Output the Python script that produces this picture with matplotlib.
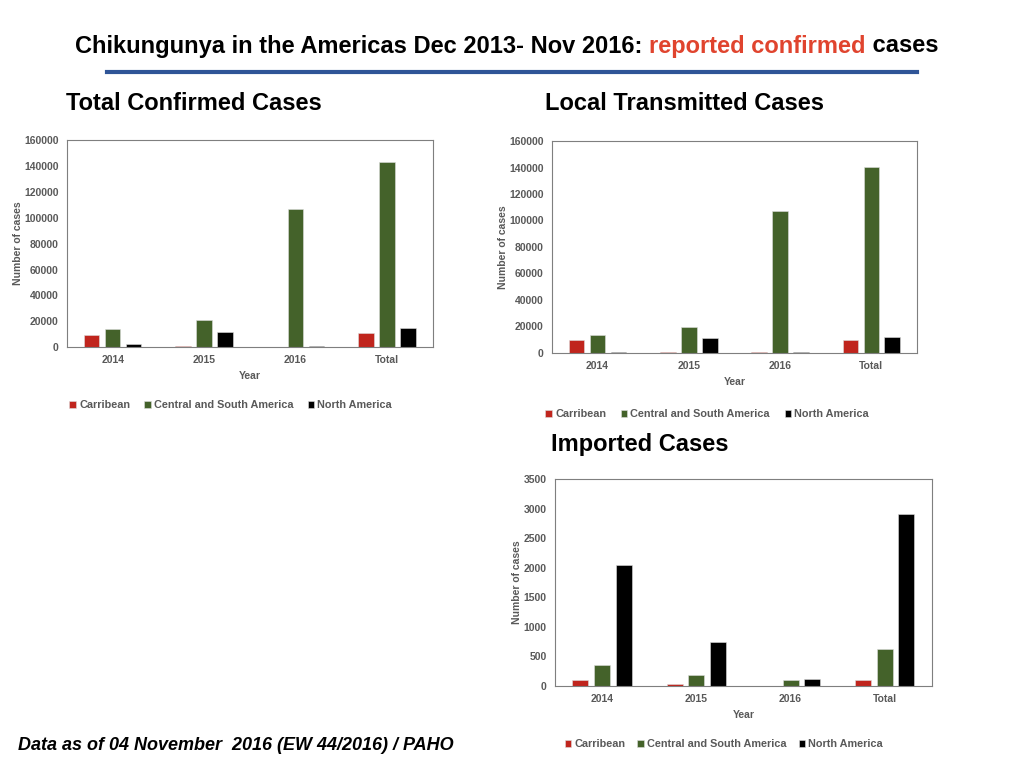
import numpy as np
import matplotlib
matplotlib.use("Agg")
import matplotlib.pyplot as plt

plt.rcParams['font.family'] = ['Liberation Sans', 'DejaVu Sans']

years = ["2014", "2015", "2016", "Total"]
regions = ["Carribean", "Central and South America", "North America"]
colors = ["#c0251d", "#44622a", "#000000"]

# total confirmed cases
total_carib = [9200, 1000, 300, 10600]
total_csa = [13800, 21000, 107000, 142800]
total_na = [2600, 11700, 500, 15000]

# locally transmitted cases
local_carib = [9600, 1000, 800, 10100]
local_csa = [13400, 19500, 107400, 140400]
local_na = [1000, 11300, 700, 12100]

# imported cases
imp_carib = [107, 28, 0, 107]
imp_csa = [361, 181, 107, 633]
imp_na = [2045, 740, 124, 2904]

grey = "#595959"


def bar_panel(ax, series, ymax, step, legend_x, legend_y, colsp):
    x = np.arange(len(years))
    w = 0.17
    off = 0.23
    for i, vals in enumerate(series):
        ax.bar(x + (i - 1) * off, vals, w, color=colors[i], label=regions[i],
               edgecolor="#dddddd", linewidth=0.4)
    ax.set_xlim(-0.5, len(years) - 0.5)
    ax.set_ylim(0, ymax)
    ax.set_yticks(np.arange(0, ymax + 1, step))
    ax.set_xticks(x)
    ax.set_xticklabels(years)
    ax.tick_params(length=0, labelsize=7.5, labelcolor=grey, pad=6)
    for lab in ax.get_xticklabels() + ax.get_yticklabels():
        lab.set_fontweight("bold")
    for s in ax.spines.values():
        s.set_color("#7f7f7f")
        s.set_linewidth(0.8)
    ax.set_xlabel("Year", fontsize=7.5, fontweight="bold", color=grey, labelpad=4)
    ax.set_ylabel("Number of cases", fontsize=7.5, fontweight="bold", color=grey, labelpad=1)
    ax.legend(loc="upper left", bbox_to_anchor=(legend_x, legend_y), ncol=3, frameon=False,
              handlelength=0.6, handleheight=0.6, handletextpad=0.3,
              columnspacing=colsp, labelcolor=grey, prop={"weight": "bold", "size": 7.8})


fig = plt.figure(figsize=(10.24, 7.68), dpi=100)

ax1 = fig.add_axes([0.0654, 0.548, 0.357, 0.2695])
bar_panel(ax1, [total_carib, total_csa, total_na], 160000, 20000, -0.02, -0.21, 1.3)

ax2 = fig.add_axes([0.539, 0.5404, 0.3564, 0.276])
bar_panel(ax2, [local_carib, local_csa, local_na], 160000, 20000, -0.045, -0.22, 1.35)

ax3 = fig.add_axes([0.542, 0.1068, 0.368, 0.2695])
bar_panel(ax3, [imp_carib, imp_csa, imp_na], 3500, 500, 0.0, -0.21, 1.1)

# title made of three coloured pieces
fig.canvas.draw()
r = fig.canvas.get_renderer()
parts = [("Chikungunya in the Americas Dec 2013- Nov 2016: ", "black"),
         ("reported confirmed", "#e0442e"),
         (" cases", "black")]
xpos = 75 / 1024
for txt, c in parts:
    t = fig.text(xpos, 1 - 46 / 768, txt, color=c, fontsize=17, fontweight="bold",
                 va="center", ha="left")
    bb = t.get_window_extent(renderer=r)
    xpos += bb.width / fig.bbox.width

fig.add_artist(plt.Line2D([107 / 1024, 917 / 1024], [1 - 72 / 768, 1 - 72 / 768],
                          color="#2f5597", linewidth=3))

fig.text(66 / 1024, 1 - 103 / 768, "Total Confirmed Cases", fontsize=17,
         fontweight="bold", va="center")
fig.text(545 / 1024, 1 - 103 / 768, "Local Transmitted Cases", fontsize=17,
         fontweight="bold", va="center")
fig.text(551 / 1024, 1 - 444 / 768, "Imported Cases", fontsize=17,
         fontweight="bold", va="center")

fig.text(18 / 1024, 1 - 745 / 768, "Data as of 04 November  2016 (EW 44/2016) / PAHO",
         fontsize=13, fontweight="bold", fontstyle="italic", va="center")

fig.savefig("out.png", dpi=100)
